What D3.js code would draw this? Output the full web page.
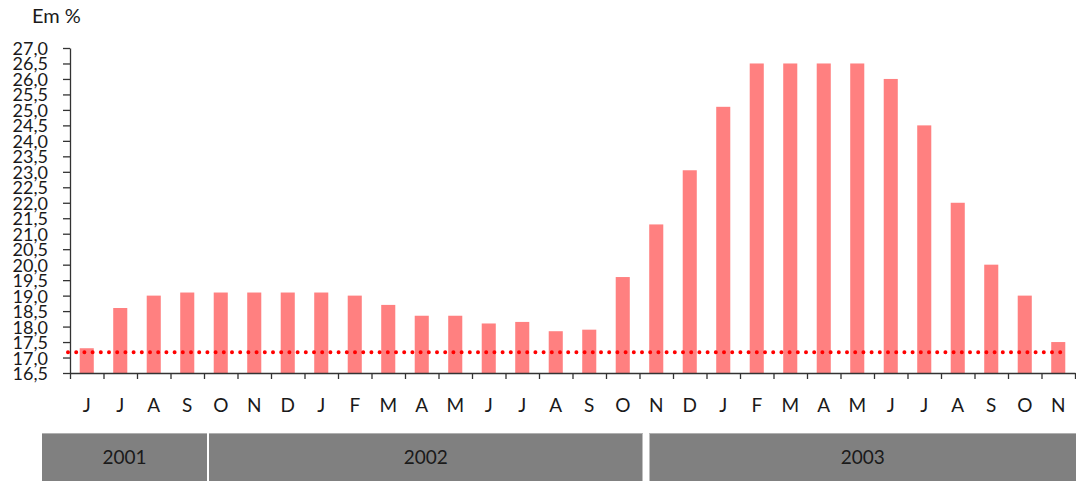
<!DOCTYPE html>
<html>
<head>
<meta charset="utf-8">
<script src="https://d3js.org/d3.v7.min.js"></script>
<style>
  body { margin: 0; background: #fff; }
  text { font-family: Lato, "Noto Sans", sans-serif; fill: #1a1a1a; }
  .axis path, .axis line { stroke: #333; stroke-width: 1.3; }
  .axis text { font-size: 18px; }
</style>
</head>
<body>
<svg width="1076" height="481"></svg>
<script>
// months from June 2001 to November 2003
var months = ["J","J","A","S","O","N","D","J","F","M","A","M","J","J","A","S","O","N","D","J","F","M","A","M","J","J","A","S","O","N"];
var values = [17.3, 18.6, 19.0, 19.1, 19.1, 19.1, 19.1, 19.1, 19.0, 18.7, 18.35, 18.35, 18.1, 18.15, 17.85, 17.9, 19.6, 21.3, 23.05, 25.1, 26.5, 26.5, 26.5, 26.5, 26.0, 24.5, 22.0, 20.0, 19.0, 17.5];
var refLine = 17.17;
var years = ["2001", "2002", "2003"];
var yearFrom = [0, 4, 17];
var yearTo = [4, 17, 30];
var yTicks = d3.range(16.5, 27.01, 0.5);

var svg = d3.select("svg");
var mLeft = 70, mRight = 1075, mTop = 48, mBottom = 373;

var x = d3.scaleBand().domain(d3.range(months.length)).range([mLeft, mRight]).paddingInner(0.58).paddingOuter(0.29);
var xb = d3.scaleLinear().domain([0, months.length]).range([mLeft, mRight]);
var y = d3.scaleLinear().domain([16.5, 27]).range([mBottom, mTop]);

// bars
svg.append("g").selectAll("rect")
  .data(values)
  .enter().append("rect")
  .attr("x", function(d, i) { return x(i); })
  .attr("y", function(d) { return y(d); })
  .attr("width", x.bandwidth())
  .attr("height", function(d) { return mBottom - y(d); })
  .attr("fill", "#ff8080");

// y axis
svg.append("g")
  .attr("class", "axis")
  .attr("transform", "translate(" + mLeft + ",0)")
  .call(d3.axisLeft(y).tickValues(yTicks).tickSize(7).tickSizeOuter(0)
    .tickFormat(function(d) { return d3.format(".1f")(d).replace(".", ","); }))
  .selectAll("text").attr("x", -22).attr("dy", "0.36em");

// x axis ticks at month boundaries
svg.append("g")
  .attr("class", "axis")
  .attr("transform", "translate(0," + mBottom + ")")
  .call(d3.axisBottom(xb).tickValues(d3.range(months.length + 1)).tickSize(6).tickSizeOuter(0).tickFormat(""));

// month labels
svg.append("g").selectAll("text")
  .data(months)
  .enter().append("text")
  .attr("x", function(d, i) { return x(i) + x.bandwidth() / 2; })
  .attr("y", 412)
  .attr("text-anchor", "middle")
  .attr("font-size", 19)
  .text(function(d) { return d; });

// reference line (dotted)
svg.append("line")
  .attr("x1", 68).attr("x2", 1064)
  .attr("y1", y(refLine)).attr("y2", y(refLine))
  .attr("stroke", "#ff0000")
  .attr("stroke-width", 4)
  .attr("stroke-linecap", "round")
  .attr("stroke-dasharray", "0 8.2");

// unit label
svg.append("text")
  .attr("x", 32).attr("y", 23)
  .attr("font-size", 20)
  .text("Em %");

// year bands
var bandL = [42, xb(yearFrom[1]) + 5, xb(yearFrom[2]) + 10];
var bandR = [xb(yearTo[0]) + 3, xb(yearTo[1]) + 3, 1076];
var yg = svg.append("g");
years.forEach(function(yr, i) {
  yg.append("rect")
    .attr("x", bandL[i]).attr("y", 433)
    .attr("width", bandR[i] - bandL[i]).attr("height", 48)
    .attr("fill", "#808080");
  yg.append("line")
    .attr("x1", bandL[i]).attr("x2", bandR[i])
    .attr("y1", 433.5).attr("y2", 433.5)
    .attr("stroke", "#b0b0b0");
  yg.append("text")
    .attr("x", (bandL[i] + bandR[i]) / 2).attr("y", 464)
    .attr("text-anchor", "middle")
    .attr("font-size", 19)
    .text(yr);
});
</script>
</body>
</html>
